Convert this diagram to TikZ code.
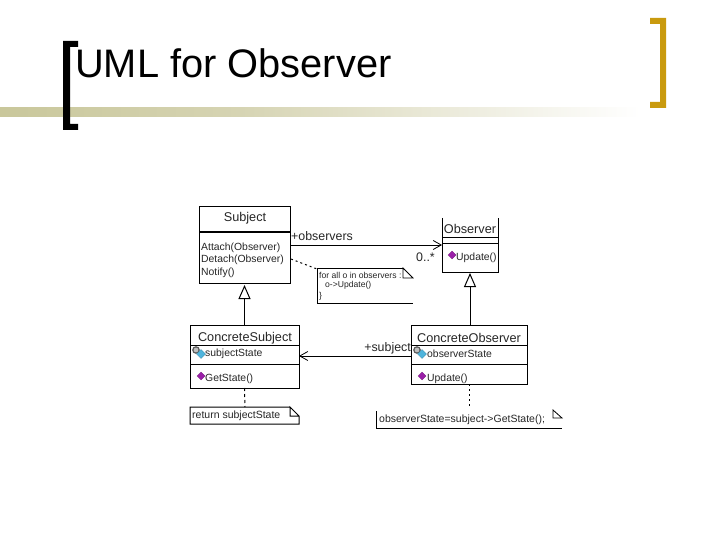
\documentclass[tikz,border=0pt]{standalone}
\usepackage{fontspec}
\setmainfont{Liberation Sans}
\usetikzlibrary{arrows.meta,calc}
\definecolor{bandA}{HTML}{C9C79B}
\definecolor{bandB}{HTML}{D6D4B3}
\definecolor{gold}{HTML}{C99A0E}
\definecolor{purp}{HTML}{9A1FA8}
\definecolor{cyanish}{HTML}{4FB4DC}
\tikzset{
  px/.style={x=1pt,y=-1pt},
  umlbox/.style={draw=black,line width=1pt,inner sep=0,outer sep=0,anchor=north west},
  bare/.style={inner sep=0,outer sep=0,anchor=north west},
  txt/.style={font=\fontsize{10.4}{12}\selectfont,inner sep=0,anchor=west,text=black!85},
  lbl/.style={font=\fontsize{12.4}{14}\selectfont,inner sep=0,anchor=west,text=black!85},
  ctxt/.style={font=\fontsize{12.7}{14}\selectfont,inner sep=0,text=black!85},
  small/.style={font=\fontsize{8.6}{10}\selectfont,inner sep=0,anchor=west,text=black!85},
  notetxt/.style={font=\fontsize{10.5}{12}\selectfont,inner sep=0,anchor=west,text=black!85},
  rel/.style={line width=1pt},
  gen/.style={rel,-{Triangle[open,length=14pt,width=12pt,line width=1pt]}},
  dep/.style={line width=1pt,dash pattern=on 2pt off 3pt},
  opena/.style={rel,-{Straight Barb[length=8pt,width=9pt,line width=.8pt]}},
  opicon/.style={fill=purp,draw=purp!70!black,line width=.3pt},
  atticon/.style={fill=cyanish,draw=cyanish!70!black,line width=.3pt},
  lockicon/.style={draw=black!65,line width=1.2pt,fill=black!25},
}
\newcommand{\opdiamond}[2]{\path[opicon] (#1-4,#2) -- (#1,#2-4) -- (#1+4,#2) -- (#1,#2+4) -- cycle;}
\newcommand{\attdiamond}[2]{\path[lockicon] (#1-5,#2-4) circle[radius=3.2pt];\path[atticon] (#1-4.5,#2) -- (#1,#2-4.5) -- (#1+4.5,#2) -- (#1,#2+4.5) -- cycle;}
\begin{document}
\begin{tikzpicture}[px]
\useasboundingbox (0,0) rectangle (720,540);
\fill[white] (0,0) rectangle (720,540);
% title band and brackets
\shade[left color=bandA,right color=bandB] (0,108) rectangle (240,117);
\shade[left color=bandB,right color=white] (240,108) rectangle (640,117);
\fill[black] (63,41) -- (78,41) -- (78,47) -- (70,47) -- (70,124) -- (78,124) -- (78,130) -- (63,130) -- cycle;
\fill[gold] (650,18) -- (666,18) -- (666,108) -- (650,108) -- (650,102) -- (660,102) -- (660,24) -- (650,24) -- cycle;
\node[font=\fontsize{39.8}{44}\selectfont,inner sep=0,anchor=base west] (title) at (75,78) {UML for Observer};
% Subject
\node[umlbox,minimum width=91pt,minimum height=76pt] (subject) at (199,207) {};
\draw[rel] (199,232) -- (290,232);
\node[ctxt] (subjectname) at (245,218) {Subject};
\node[txt] (m1) at (201,248) {Attach(Observer)};
\node[txt] (m2) at (201,260) {Detach(Observer)};
\node[txt] (m3) at (201,273) {Notify()};
% Observer (no top edge visible)
\node[bare,minimum width=56pt,minimum height=54pt] (observer) at (442,218) {};
\draw[rel] (observer.north west) -- (observer.south west) -- (observer.south east) -- (observer.north east);
\draw[rel] (442,237) -- (498,237) (442,243) -- (498,243);
\node[ctxt] (observername) at (470,229) {Observer};
\opdiamond{452}{255}
\node[txt] (upd) at (456,258) {Update()};
% ConcreteSubject
\node[umlbox,minimum width=109pt,minimum height=63pt] (csub) at (190,325) {};
\draw[rel] (190,345) -- (299,345) (190,364) -- (299,364);
\node[ctxt] (csubname) at (245,338) {ConcreteSubject};
\attdiamond{201}{354}
\node[txt] (sstate) at (205,354) {subjectState};
\opdiamond{201}{376}
\node[txt] (gets) at (205,379) {GetState()};
% ConcreteObserver
\node[umlbox,minimum width=116pt,minimum height=59pt] (cobs) at (411,325) {};
\draw[rel] (411,345) -- (527,345) (411,364) -- (527,364);
\node[ctxt] (cobsname) at (469,338) {ConcreteObserver};
\attdiamond{422}{354}
\node[txt] (ostate) at (427,354) {observerState};
\opdiamond{422}{376}
\node[txt] (upd2) at (427,379) {Update()};
% notes
\coordinate (n1) at (317,269);
\draw[rel] (403,268) -- (317,268) -- (317,303) -- (413,303);
\draw[line width=.8pt] (403,268) -- (403,278) -- (413,278) -- cycle;
\node[small] (n1a) at (319,275) {for all o in observers :};
\node[small] (n1b) at (325,285) {o->Update()};
\node[small] (n1c) at (319,296) {\}};
\coordinate (n2) at (245,407);
\draw[rel] (290,407) -- (190,407) -- (190,424) -- (299,424) -- (299,416) -- (290,407) -- (290,416) -- (299,416);
\node[notetxt] (n2a) at (192,416) {return subjectState};
\coordinate (n3) at (469,407);
\draw[rel] (376,411) -- (376,428) -- (562,428);
\draw[line width=.8pt] (553,410) -- (553,418) -- (562,418) -- cycle;
\node[notetxt] (n3a) at (379,420) {observerState=subject->GetState();};
% connectors
\draw[opena] (subject.east |- 0,245) -- (observer.west |- 0,245);
\node[lbl] (lobs) at (291,236) {+observers};
\node[lbl] (lstar) at (416,257) {0..*};
\draw[opena] (cobs.west |- 0,356) -- (csub.east |- 0,356);
\node[lbl,anchor=east] (lsub) at (411,348) {+subject};
\draw[gen,shorten >=2pt] (csub.north -| subject.south) -- (subject.south);
\draw[gen,shorten >=1pt] (cobs.north -| observer.south) -- (observer.south);
\draw[dep] (291,259) -- (n1);
\draw[rel,dash pattern=on 3pt off 3pt] (csub.south) -- (n2);
\draw[dep] (cobs.south) -- (n3);
\end{tikzpicture}
\end{document}
